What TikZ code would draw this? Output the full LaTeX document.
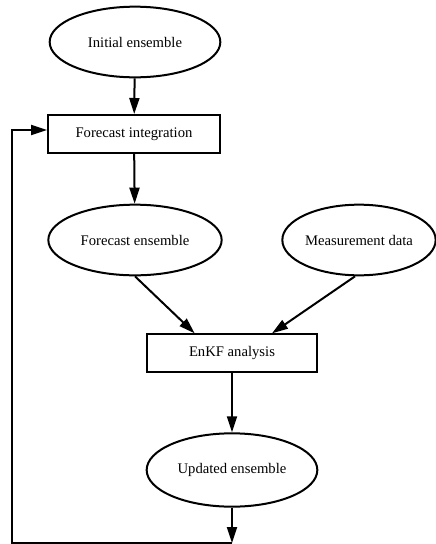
\documentclass[tikz,border=0pt]{standalone}
\usepackage{fontspec}
\setmainfont{Liberation Serif}
\usetikzlibrary{shapes.geometric,arrows.meta}
\begin{document}
\begin{tikzpicture}[x=0.75pt, y=-0.75pt, line width=1.5pt, font=\fontsize{11}{13}\selectfont,
        oval/.style={ellipse, draw, inner sep=0pt, minimum width=128pt, minimum height=53pt},
        block/.style={rectangle, draw, inner sep=0pt, minimum width=129pt, minimum height=28.5pt},
        arr/.style={-{Triangle[length=12pt,width=7.5pt]}}]
            \useasboundingbox (0,0) rectangle (436,544);
            \node[oval] (init) at (135,42) {Initial ensemble};
            \node[block] (fint) at (134,134) {Forecast integration};
            \node[oval, minimum width=130pt] (fens) at (135,240) {Forecast ensemble};
            \node[oval, minimum width=115pt] (meas) at (359,240) {Measurement data};
            \node[block, minimum width=128pt, minimum height=28pt] (enkf) at (232,353) {EnKF analysis};
            \node[oval, minimum height=55pt] (upd) at (232,470) {Updated ensemble};
            \coordinate (loop) at (232,543);

            \draw[arr] (init) -- (fint);
            \draw[arr] (fint) -- (fens);
            \draw[arr] (fens.south) -- ([xshift=-28pt]enkf.north);
            \draw[arr] ([xshift=-3pt]meas.south) -- ([xshift=30pt]enkf.north);
            \draw[arr] (enkf) -- (upd);
            \draw[arr] (upd) -- (loop);
            \draw[arr] (loop) -- (12,543) |- ([yshift=3pt]fint.west);
        \end{tikzpicture}
\end{document}
